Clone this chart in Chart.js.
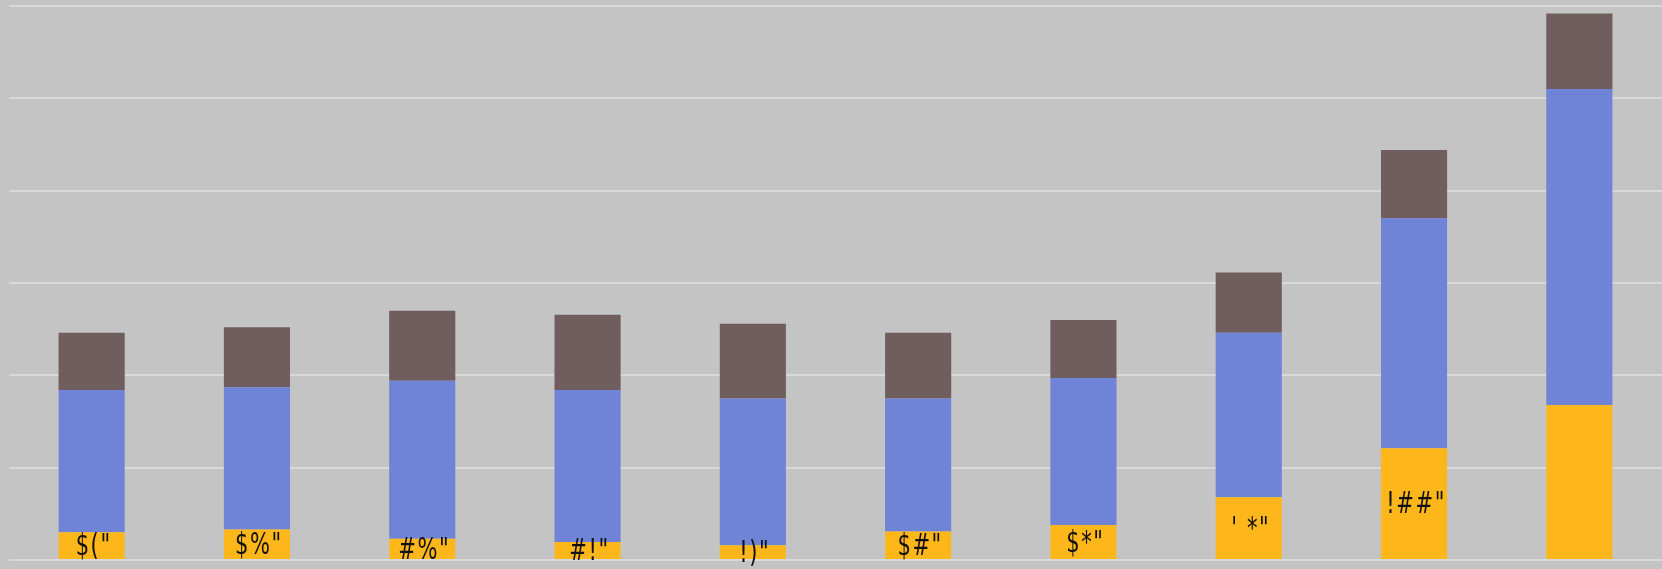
<!DOCTYPE html>
<html lang="en">
<head>
    <meta charset="UTF-8">
    <title>Stacked bars</title>
    <script src="https://cdn.jsdelivr.net/npm/chart.js"></script>
    <style>
        body {
            margin: 0;
            padding: 0;
            background-color: #c4c4c4;
            overflow: hidden;
        }
    </style>
</head>
<body>
    <canvas id="chart" width="1662" height="569"></canvas>

    <script>
        // categories (no visible axis labels in the reference)
        const categories = ["1", "2", "3", "4", "5", "6", "7", "8", "9", "10"];

        // series values, bottom to top
        const yellowValues = [30, 33, 23, 19.5, 16, 31, 38, 68, 121, 168];
        const blueValues = [154, 154, 171, 164.5, 159, 144, 159, 178, 249, 342];
        const brownValues = [62, 65, 76, 81.5, 81, 71, 63, 65.5, 74, 82];

        // labels shown on the yellow segments, as printed
        const yellowLabels = ["$(\"", "$%\"", "#%\"", "#!\"", "!)\"", "$#\"", "$*\"", "' *\"", "!##\"", ""];

        const segmentLabels = {
            id: "segmentLabels",
            afterDatasetsDraw(chart) {
                const ctx = chart.ctx;
                const meta = chart.getDatasetMeta(0);
                meta.data.forEach((bar, i) => {
                    const text = yellowLabels[i];
                    if (!text) return;
                    ctx.save();
                    ctx.translate(bar.x + 2, (bar.y + bar.base) / 2 + 2);
                    // the printed labels are tall and narrow
                    ctx.scale(0.78, 1.0);
                    ctx.fillStyle = "#111";
                    ctx.font = "30px 'DejaVu Sans Condensed', 'DejaVu Sans', sans-serif";
                    ctx.letterSpacing = "2px";
                    ctx.textAlign = "center";
                    ctx.textBaseline = "middle";
                    ctx.fillText(text, 0, 0);
                    ctx.restore();
                });
            }
        };

        new Chart(document.getElementById("chart").getContext("2d"), {
            type: "bar",
            data: {
                labels: categories,
                datasets: [
                    { label: "Yellow", data: yellowValues, backgroundColor: "#fdb71b" },
                    { label: "Blue", data: blueValues, backgroundColor: "#6f83d7" },
                    { label: "Brown", data: brownValues, backgroundColor: "#6f5e5d" }
                ]
            },
            options: {
                responsive: false,
                animation: false,
                barPercentage: 0.8,
                categoryPercentage: 0.5,
                layout: {
                    padding: { left: 9, top: 6, right: 0, bottom: 9 }
                },
                plugins: {
                    legend: { display: false },
                    tooltip: { enabled: false }
                },
                scales: {
                    x: {
                        stacked: true,
                        display: false
                    },
                    y: {
                        stacked: true,
                        min: 0,
                        max: 600,
                        ticks: { display: false, stepSize: 100 },
                        border: { display: false },
                        grid: {
                            color: "#d9d9d9",
                            lineWidth: 2,
                            drawTicks: false
                        }
                    }
                }
            },
            plugins: [segmentLabels]
        });
    </script>
</body>
</html>
